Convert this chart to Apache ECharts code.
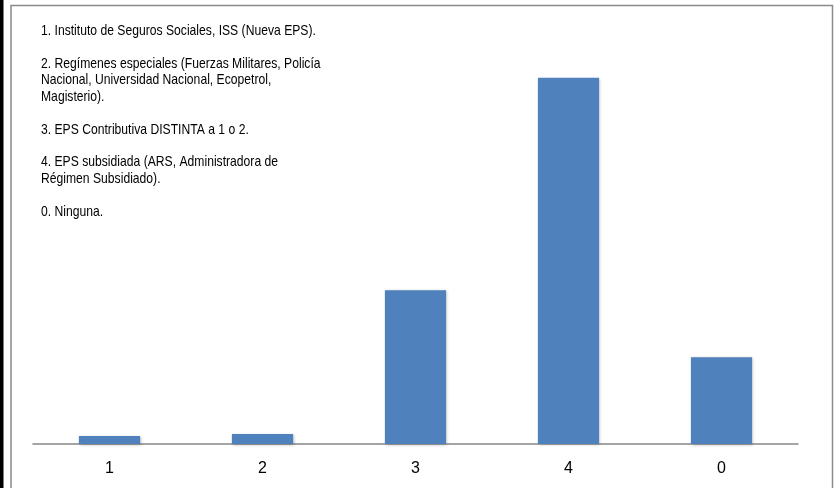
<!DOCTYPE html>
<html><head><meta charset="utf-8">
<script src="https://cdn.jsdelivr.net/npm/echarts@6/dist/echarts.min.js"></script>
<style>html,body{margin:0;padding:0;background:#fff}#c{width:835px;height:488px}</style>
</head><body><div id="c"></div>
<script>
const categories = ['1', '2', '3', '4', '0'];
const values = [1.3, 1.6, 24.6, 58.6, 13.9];
const notes = [
  '1. Instituto de Seguros Sociales, ISS (Nueva EPS).',
  '',
  '2. Regímenes especiales (Fuerzas Militares, Policía',
  'Nacional, Universidad Nacional, Ecopetrol,',
  'Magisterio).',
  '',
  '3. EPS Contributiva DISTINTA a 1 o 2.',
  '',
  '4. EPS subsidiada (ARS, Administradora de',
  'Régimen Subsidiado).',
  '',
  '0. Ninguna.'
];
const chart = echarts.init(document.getElementById('c'), null, {renderer: 'canvas'});
chart.setOption({
  animation: false,
  graphic: [
    {type: 'rect', shape: {x: 0, y: 0, width: 3.5, height: 488}, style: {fill: '#000'}, z: 100},
    {type: 'rect', shape: {x: 11, y: 5.5, width: 821.5, height: 490}, style: {fill: 'none', stroke: '#8a8a8a', lineWidth: 1.5}, z: 100},
    {type: 'text', x: 41, y: 22.8, scaleX: 0.81, scaleY: 1, originX: 0, originY: 0, z: 100,
     style: {text: notes.join('\n'), font: '15px "Liberation Sans", Arial', fill: '#000', lineHeight: 16.4, verticalAlign: 'top', align: 'left'}}
  ],
  grid: {left: 33, right: 37, top: 44, bottom: 44},
  xAxis: {
    type: 'category', data: categories,
    axisLine: {lineStyle: {color: '#888', width: 1.5}},
    axisTick: {length: 4, lineStyle: {color: '#888', width: 1.5}},
    axisLabel: {fontFamily: 'Liberation Sans, Arial', fontSize: 16, color: '#000', margin: 17}
  },
  yAxis: {type: 'value', min: 0, max: 64, show: false, splitLine: {show: false}},
  series: [{
    type: 'bar', data: values, barCategoryGap: '60%',
    itemStyle: {color: '#4F81BD', shadowColor: 'rgba(0,0,0,0.25)', shadowBlur: 3, shadowOffsetX: 1, shadowOffsetY: 1}
  }]
});
</script></body></html>
